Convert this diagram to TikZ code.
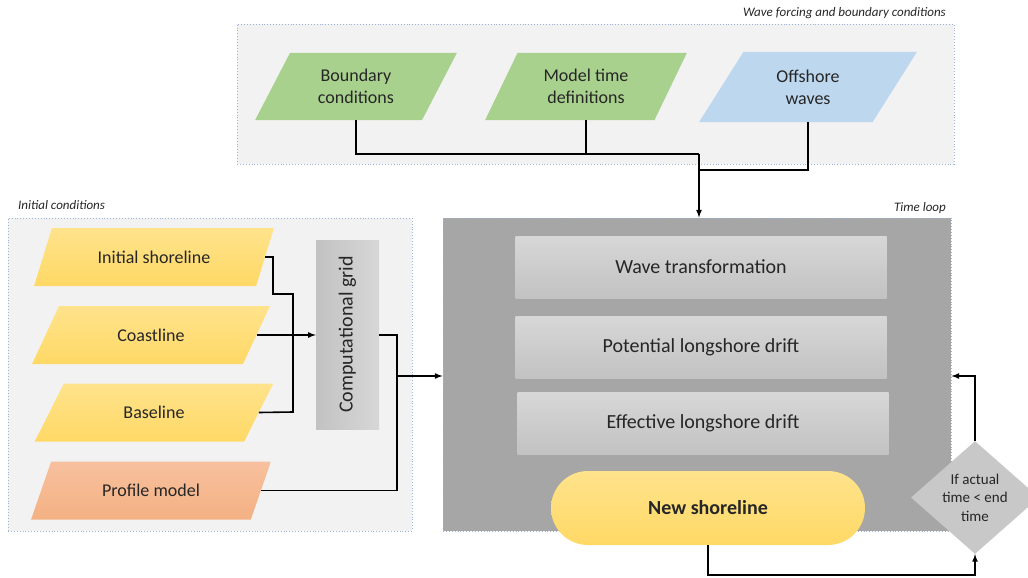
\documentclass[tikz,border=0pt]{standalone}
\usepackage{fontspec}
\setmainfont{Carlito}
\usetikzlibrary{positioning, shapes.geometric, fit}
\usetikzlibrary{arrows}

\definecolor{panelfill}{HTML}{F2F2F2}
\definecolor{paneledge}{HTML}{9DB3D6}
\definecolor{loopfill}{HTML}{A6A6A6}
\definecolor{greenfill}{HTML}{A9D18E}
\definecolor{bluefill}{HTML}{BDD7EE}
\definecolor{yellowfill}{HTML}{FFD966}
\definecolor{yellowtop}{HTML}{FFE38C}
\definecolor{salmonfill}{HTML}{F4B183}
\definecolor{salmontop}{HTML}{F7C09E}
\definecolor{steptop}{HTML}{D7D7D7}
\definecolor{stepbottom}{HTML}{C2C2C2}
\definecolor{checkfill}{HTML}{C8C8C8}
\definecolor{inktext}{HTML}{262626}

\begin{document}
\begin{tikzpicture}[
    x=1pt, y=-1pt,
    % Define the style for the dotted panels
    panel/.style={draw=paneledge, dotted, line width=0.9pt, fill=panelfill, inner sep=0pt},
    panellabel/.style={font=\fontsize{13}{15}\selectfont\itshape, text=inktext, inner sep=0pt},
    % Define the style for the input data (parallelograms)
    indata/.style={trapezium, trapezium stretches=true, trapezium left angle=52,
        trapezium right angle=128, minimum width=240pt, minimum height=58pt,
        inner sep=0pt, align=center, text=inktext, font=\fontsize{18}{22}\selectfont},
    forcedata/.style={indata, trapezium left angle=60, trapezium right angle=120,
        minimum width=202pt, minimum height=67pt},
    % Define the style for the steps of the time loop
    stepbox/.style={rectangle, top color=steptop, bottom color=stepbottom, draw=none,
        minimum width=371pt, minimum height=62pt, text=inktext,
        font=\fontsize{20}{24}\selectfont},
    % Define the thickness of the connectors
    link/.style={line width=1.6pt, black},
    >=latex
]

    % --- Canvas ---
    \path[use as bounding box, fill=white] (0,0) rectangle (1028,578);

    % --- Wave forcing and boundary conditions ---
    \node[panel, minimum width=717pt, minimum height=140pt] (forcing) at (595.5,94) {};
    \node[panellabel, anchor=east] (forcinglabel) at (946,13) {Wave forcing and boundary conditions};

    \node[forcedata, fill=greenfill] (bound) at (356,86.5) {Boundary\\conditions};
    \node[forcedata, fill=greenfill] (timedef) at (586,86.5) {Model time\\definitions};
    \node[forcedata, fill=bluefill, trapezium left angle=58, trapezium right angle=122,
        minimum width=218pt, minimum height=70pt] (offshore) at (808,87) {Offshore\\waves};

    % --- Initial conditions ---
    \node[panel, minimum width=404pt, minimum height=313pt] (initial) at (210,374.5) {};
    \node[panellabel, anchor=west] (initiallabel) at (18,205) {Initial conditions};

    \node[indata, top color=yellowtop, bottom color=yellowfill] (ishore) at (154,257) {Initial shoreline};
    \node[indata, top color=yellowtop, bottom color=yellowfill] (coast) at (151,335) {Coastline};
    \node[indata, top color=yellowtop, bottom color=yellowfill] (base) at (154,412.5) {Baseline};
    \node[indata, top color=salmontop, bottom color=salmonfill] (profile) at (151,490.5) {Profile model};

    \node[rectangle, left color=stepbottom, right color=steptop, minimum width=63pt,
        minimum height=189pt] (grid) at (347.5,334.5) {};
    \node[rotate=90, text=inktext, font=\fontsize{20}{24}\selectfont] (gridlabel) at (grid) {Computational grid};

    % --- Time loop ---
    \node[panel, fill=loopfill, minimum width=508pt, minimum height=313pt] (loop) at (697,374.5) {};
    \node[panellabel, anchor=east] (looplabel) at (946,208) {Time loop};

    \node[stepbox] (wavetr) at (701,267) {Wave transformation};
    \node[stepbox] (potdrift) at (701,347) {Potential longshore drift};
    \node[stepbox] (effdrift) at (703,423) {Effective longshore drift};

    \node[rectangle, rounded corners=37pt, top color=yellowtop, bottom color=yellowfill,
        minimum width=314pt, minimum height=74pt, text=inktext,
        font=\fontsize{20}{24}\selectfont\bfseries] (newshore) at (708,508) {New shoreline};

    \node[diamond, fill=checkfill, minimum width=128pt, minimum height=111pt, inner sep=0pt,
        align=center, text=inktext, font=\fontsize{15}{18.5}\selectfont] (check) at (975,497.5)
        {If actual\\time < end\\time};

    % --- Connectors of the forcing panel ---
    \coordinate (fjoin) at (699,154);
    \coordinate (wjoin) at (699,170);
    \draw[link] (bound.center |- bound.south) |- (fjoin);
    \draw[link] (timedef.south) -- (timedef.south |- fjoin);
    \draw[link] (offshore.center |- offshore.south) |- (wjoin);
    \draw[link, ->] (fjoin) -- (fjoin |- loop.north);

    % --- Connectors of the initial conditions ---
    \coordinate (kink) at (273,294);
    \coordinate (cjoin) at (293,412);
    \coordinate (gjoin) at (397,335);
    \coordinate (inlet) at (397,376);
    \draw[link] (ishore.east) -| (kink) -| (cjoin) -- (base.east);
    \draw[link, ->] (coast.east) -- (coast.east -| grid.west);
    \draw[link] (grid.east |- gjoin) -- (gjoin) |- (profile.east);
    \draw[link, ->] (inlet) -- (inlet -| loop.west);

    % --- Loop back ---
    \draw[link, ->] (newshore.south) -- ++(0,30) -| (check.south);
    \draw[link, ->] (check.north) |- (loop.east |- inlet);

\end{tikzpicture}
\end{document}
